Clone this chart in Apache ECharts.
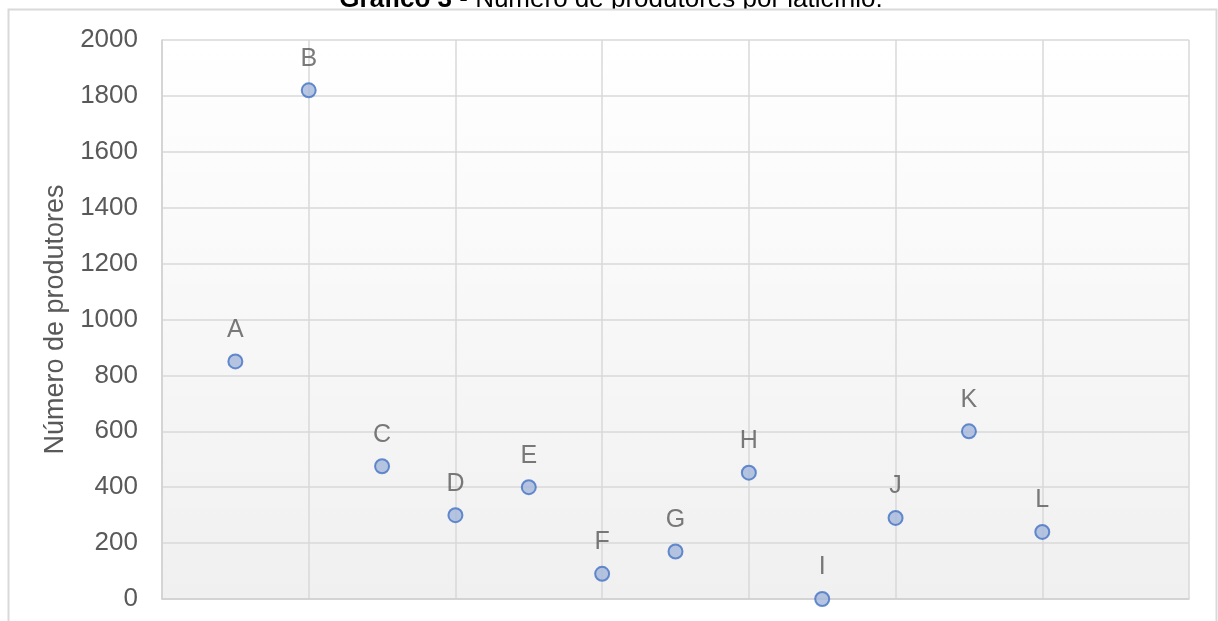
<!DOCTYPE html>
<html>
<head>
<meta charset="utf-8">
<script src="https://cdn.jsdelivr.net/npm/echarts@6/dist/echarts.min.js"></script>
<style>
html, body { margin: 0; padding: 0; background: #fff; }
#chart { width: 1218px; height: 621px; }
</style>
</head>
<body>
<div id="chart"></div>
<script>
// laticínios e número de produtores
const categorias = ['A', 'B', 'C', 'D', 'E', 'F', 'G', 'H', 'I', 'J', 'K', 'L'];
const posicoes = [1, 2, 3, 4, 5, 6, 7, 8, 9, 10, 11, 12];
const produtores = [850, 1820, 475, 300, 400, 90, 170, 452, 0, 290, 600, 240];
const yTicks = [0, 200, 400, 600, 800, 1000, 1200, 1400, 1600, 1800, 2000];

const pontos = posicoes.map((x, i) => ({ value: [x, produtores[i]], name: categorias[i] }));
const fonte = '"Liberation Sans", Arial, sans-serif';

const chart = echarts.init(document.getElementById('chart'));
chart.setOption({
    animation: false,
    textStyle: { fontFamily: fonte },
    graphic: [{
        // título, cortado pela moldura do gráfico
        type: 'text',
        x: 611, y: 0,
        z: -3,
        silent: true,
        style: {
            text: '{b|Gráfico 3} - Número de produtores por laticínio.',
            align: 'center',
            verticalAlign: 'middle',
            font: '26px ' + fonte,
            fill: '#000',
            rich: { b: { fontSize: 26, fontWeight: 'bold', fill: '#000', fontFamily: fonte } }
        }
    }, {
        type: 'rect',
        shape: { x: 8.5, y: 9.5, width: 1208, height: 640 },
        style: { fill: '#fff', stroke: '#d9d9d9', lineWidth: 2 },
        silent: true,
        z: -1
    }],
    grid: {
        left: 162, right: 29, top: 40, bottom: 22,
        show: true,
        borderWidth: 0,
        backgroundColor: new echarts.graphic.LinearGradient(0, 0, 0, 1, [
            { offset: 0, color: '#ffffff' },
            { offset: 1, color: '#f0f0f0' }
        ])
    },
    xAxis: {
        type: 'value',
        min: 0, max: 14, interval: 2,
        axisLabel: { show: false },
        axisTick: { show: false },
        axisLine: { show: true, lineStyle: { color: '#d0d0d0', width: 1.5 } },
        splitLine: { show: true, lineStyle: { color: '#d9d9d9', width: 1.5 } }
    },
    yAxis: {
        type: 'value',
        min: yTicks[0], max: yTicks[yTicks.length - 1], interval: 200,
        name: 'Número de produtores',
        nameLocation: 'center',
        nameGap: 90,
        nameTextStyle: { fontSize: 27, color: '#595959' },
        axisLabel: { fontSize: 26, color: '#595959', margin: 24, formatter: v => String(v) },
        axisTick: { show: false },
        axisLine: { show: true, lineStyle: { color: '#d0d0d0', width: 1.5 } },
        splitLine: { show: true, lineStyle: { color: '#d9d9d9', width: 1.5 } }
    },
    series: [{
        type: 'scatter',
        data: pontos,
        symbol: 'circle',
        symbolSize: 14,
        itemStyle: { color: '#a3b6db', borderColor: '#4472c4', borderWidth: 2 },
        label: {
            show: true,
            position: 'top',
            distance: 11,
            formatter: p => p.name,
            fontSize: 25,
            color: '#595959'
        }
    }]
});
</script>
</body>
</html>
